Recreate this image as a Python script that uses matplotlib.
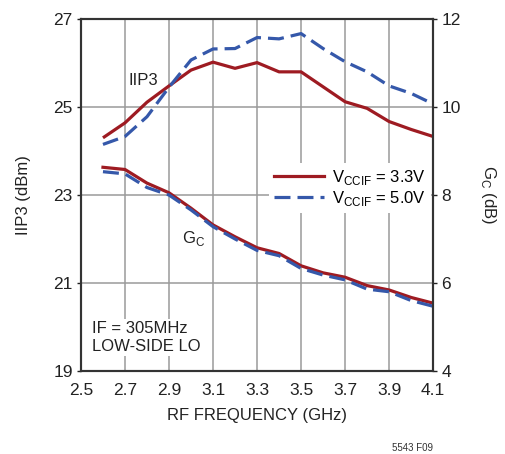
import matplotlib.pyplot as plt
import numpy as np

plt.rcParams['font.family'] = ['Liberation Sans', 'DejaVu Sans']

# RF frequency (GHz)
freq = [2.6, 2.7, 2.8, 2.9, 3.0, 3.1, 3.2, 3.3, 3.4, 3.5, 3.6, 3.7, 3.8, 3.9, 4.0, 4.1]

# IIP3 (dBm)
iip3_33 = [24.30, 24.64, 25.11, 25.48, 25.84, 26.02, 25.88, 26.01, 25.80, 25.80,
           25.46, 25.12, 24.97, 24.67, 24.49, 24.33]
iip3_50 = [24.15, 24.33, 24.78, 25.45, 26.07, 26.32, 26.33, 26.58, 26.55, 26.67,
           26.33, 26.03, 25.80, 25.48, 25.31, 25.07]

# conversion gain Gc (dB)
gc_33 = [8.63, 8.58, 8.27, 8.05, 7.70, 7.32, 7.05, 6.80, 6.67, 6.39,
         6.23, 6.13, 5.94, 5.84, 5.67, 5.54]
gc_50 = [8.53, 8.48, 8.17, 8.00, 7.66, 7.28, 7.00, 6.74, 6.62, 6.33,
         6.18, 6.07, 5.86, 5.80, 5.60, 5.47]

xticks = [2.5, 2.7, 2.9, 3.1, 3.3, 3.5, 3.7, 3.9, 4.1]
yticks_l = [19, 21, 23, 25, 27]
yticks_r = [4, 6, 8, 10, 12]

red = '#9e1b22'
blue = '#3558aa'
dash = (0, (5, 2.2))
ink = '#222222'
fs = 12

fig = plt.figure(figsize=(5.06, 4.54), dpi=100)
ax = fig.add_axes([0.160, 0.183, 0.696, 0.775])
ax2 = ax.twinx()

ax.set_xlim(2.5, 4.1)
ax.set_ylim(19, 27)
ax2.set_ylim(4, 12)
ax.set_xticks(xticks)
ax.set_xticklabels([f'{t:.1f}' for t in xticks])
ax.set_yticks(yticks_l)
ax2.set_yticks(yticks_r)

ax.grid(True, color='#9a9a9a', lw=1.1)
for a in (ax, ax2):
  for s in a.spines.values():
    s.set_color('#333333')
    s.set_linewidth(1.5)
ax.tick_params(axis='x', length=0, pad=9, labelsize=12.5, colors=ink)
ax.tick_params(axis='y', length=3, width=1, pad=3, labelsize=12.5, colors=ink)
ax2.tick_params(axis='y', length=3, width=1, pad=3, labelsize=12.5, colors=ink)

ax.plot(freq, iip3_33, color=red, lw=2.3, solid_capstyle='butt')
ax.plot(freq, iip3_50, color=blue, lw=2.3, linestyle=dash)
ax2.plot(freq, gc_33, color=red, lw=2.3, label=r'V$_{\mathregular{CCIF}}$ = 3.3V')
ax2.plot(freq, gc_50, color=blue, lw=2.3, linestyle=dash, label=r'V$_{\mathregular{CCIF}}$ = 5.0V')

leg = ax2.legend(loc='upper left', bbox_to_anchor=(0.51, 0.615), frameon=True,
                 fontsize=fs, handlelength=3.0, handletextpad=0.5,
                 borderpad=0.3, labelspacing=0.1, fancybox=False)
leg.get_frame().set_edgecolor('none')
leg.get_frame().set_facecolor('white')
leg.get_frame().set_alpha(1)
leg.set_zorder(1)

box = dict(facecolor='white', edgecolor='none', pad=1.5)
ax.text(2.715, 25.5, 'IIP3', fontsize=fs, color=ink, bbox=box, zorder=5)
ax.text(2.96, 21.9, r'G$_{\mathregular{C}}$', fontsize=fs, color=ink, bbox=box, zorder=5)
ax.text(2.55, 19.45, 'IF = 305MHz\nLOW-SIDE LO', fontsize=fs, color=ink,
        linespacing=1.25, bbox=box, zorder=5)

ax.set_xlabel('RF FREQUENCY (GHz)', fontsize=fs, color=ink, labelpad=7)
ax.set_ylabel('IIP3 (dBm)', fontsize=fs, color=ink, labelpad=16)
ax2.set_ylabel(r'G$_{\mathregular{C}}$ (dB)', fontsize=fs, color=ink,
               rotation=-90, labelpad=27)

fig.text(0.816, 0.013, '5543 F09', fontsize=7, color='#333333', ha='center', va='center')

fig.savefig('out.png', dpi=100)
